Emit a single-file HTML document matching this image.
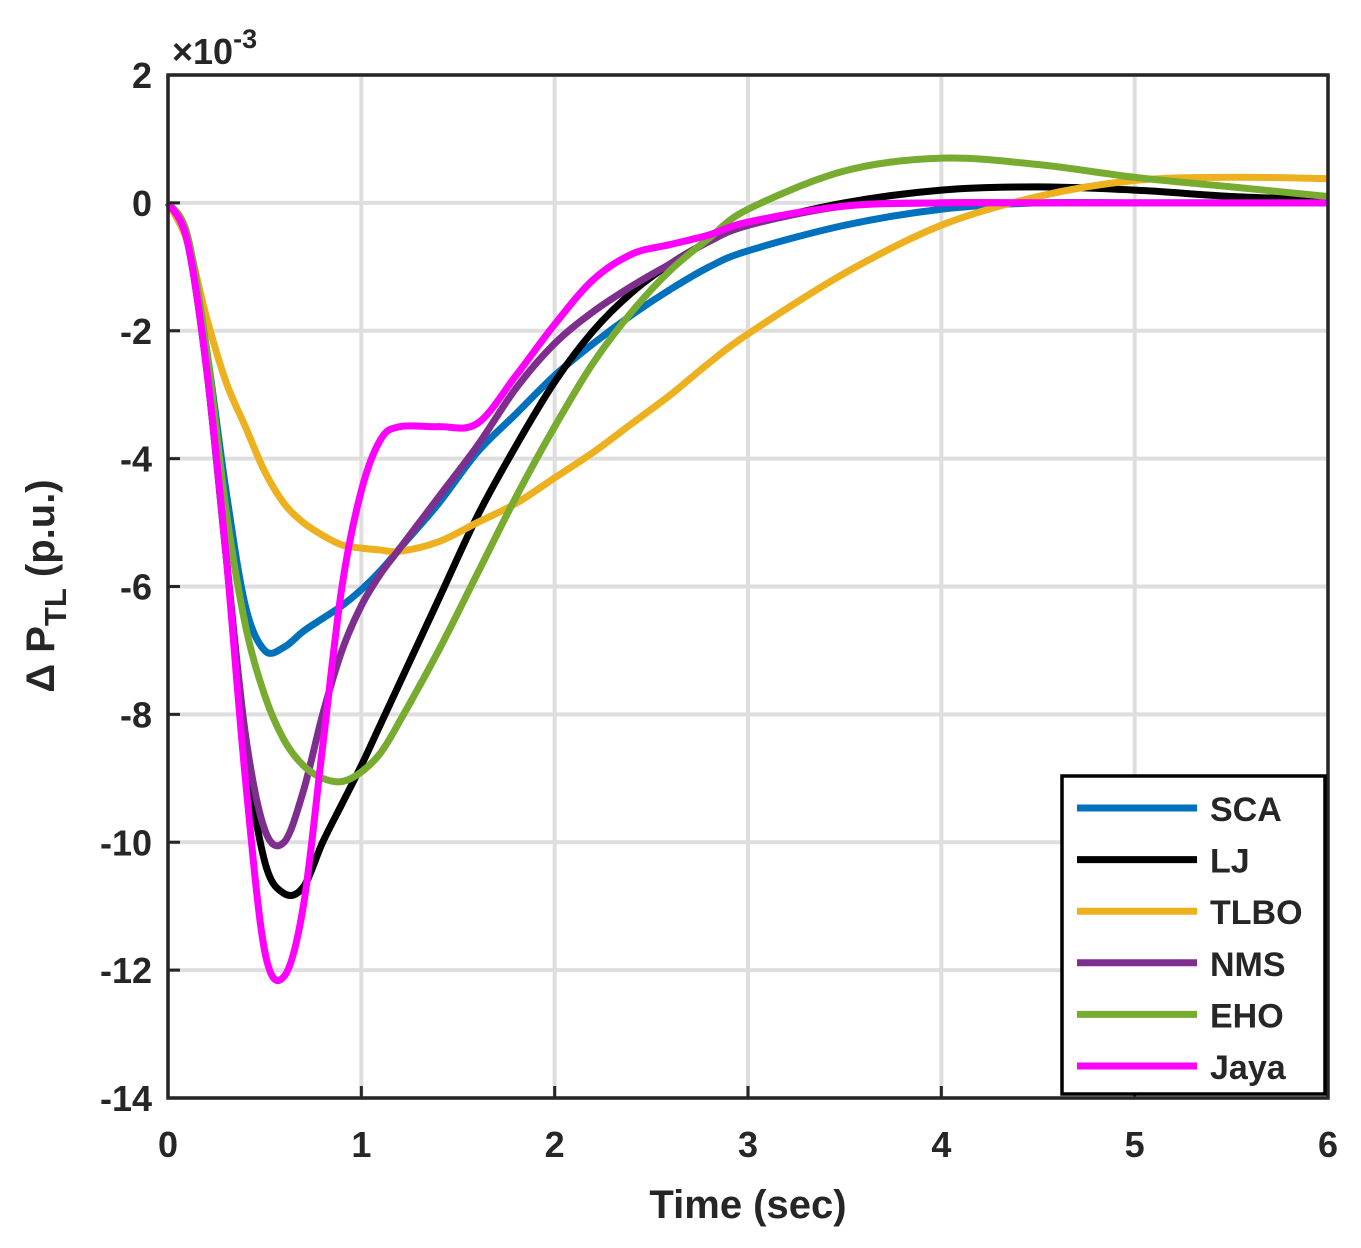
<!DOCTYPE html>
<html><head><meta charset="utf-8"><style>
body{margin:0;background:#fff}
svg text{font-family:"Liberation Sans",Arial,sans-serif;font-weight:bold;fill:#262626}
</style></head><body>
<svg id="chart" width="1361" height="1243" viewBox="0 0 1361 1243" xmlns="http://www.w3.org/2000/svg">
<g id="grid"></g>
<g id="lines"></g>
<rect x="168" y="75" width="1160" height="1023" fill="none" stroke="#262626" stroke-width="3.5"/>
<g id="ticks"></g>
<text x="172" y="64" font-size="36" font-weight="normal">×10<tspan dy="-16" font-size="27">-3</tspan></text>
<text x="748" y="1218" font-size="40" text-anchor="middle">Time (sec)</text>
<text transform="translate(54,586) rotate(-90)" font-size="40" text-anchor="middle">Δ P<tspan dy="12" font-size="31">TL</tspan><tspan dy="-12"> (p.u.)</tspan></text>
<g id="legend"></g>
</svg>
<script>
const times=[0,.1,.2,.3,.4,.5,.6,.7,.8,.9,1,1.1,1.2,1.4,1.6,1.8,2,2.2,2.4,2.6,2.8,3,3.5,4,4.5,5,5.5,6];
const seriesNames=["SCA","LJ","TLBO","NMS","EHO","Jaya"];
const seriesColors=["#0072BD","#000000","#EDB120","#7E2F8E","#77AC30","#FF00FF"];
const sca=[0,-0.6,-2.3,-4.5,-6.3,-7.0,-6.95,-6.7,-6.5,-6.3,-6.05,-5.75,-5.4,-4.7,-3.9,-3.3,-2.7,-2.2,-1.75,-1.35,-1.0,-0.75,-0.35,-0.1,0,0,0,0];
const lj=[0,-0.6,-2.6,-5.5,-8.5,-10.3,-10.8,-10.7,-10.0,-9.4,-8.8,-8.15,-7.5,-6.2,-4.9,-3.8,-2.8,-2.0,-1.4,-0.95,-0.6,-0.35,0.0,0.2,0.25,0.2,0.1,0.05];
const tlbo=[0,-0.6,-1.8,-2.8,-3.5,-4.2,-4.7,-5.0,-5.2,-5.35,-5.4,-5.43,-5.45,-5.3,-5.0,-4.7,-4.3,-3.9,-3.45,-3.0,-2.5,-2.05,-1.1,-0.35,0.1,0.35,0.4,0.38];
const nms=[0,-0.6,-2.6,-5.5,-8.3,-9.8,-10.0,-9.2,-8.0,-7.0,-6.3,-5.8,-5.4,-4.6,-3.8,-2.9,-2.2,-1.7,-1.3,-0.95,-0.6,-0.35,-0.05,0,0,0,0,0];
const eho=[0,-0.5,-2.3,-4.8,-6.6,-7.7,-8.4,-8.8,-9.0,-9.05,-8.9,-8.6,-8.1,-7.0,-5.8,-4.6,-3.5,-2.5,-1.7,-1.05,-0.55,-0.1,0.5,0.7,0.6,0.4,0.25,0.1];
const jaya=[0,-0.6,-2.6,-5.5,-9.0,-11.7,-12.1,-11.0,-8.5,-6.0,-4.5,-3.7,-3.5,-3.5,-3.45,-2.7,-1.9,-1.2,-0.8,-0.65,-0.5,-0.3,-0.05,0,0,0,0,0];
const xTicks=[0,1,2,3,4,5,6];
const yTicks=[2,0,-2,-4,-6,-8,-10,-12,-14];
const allSeries=[sca,lj,tlbo,nms,eho,jaya];
const X0=168,X1=1328,Y0=75,Y1=1098;
const xs=t=>X0+(t-0)/6*(X1-X0);
const ys=v=>Y0+(2-v)/16*(Y1-Y0);
const NS="http://www.w3.org/2000/svg";
function mk(tag,attrs,parent){const e=document.createElementNS(NS,tag);for(const k in attrs)e.setAttribute(k,attrs[k]);parent.appendChild(e);return e;}
const grid=document.getElementById('grid'),ticks=document.getElementById('ticks');
xTicks.forEach(t=>{
 const l=mk('line',{x1:xs(t),x2:xs(t),y1:Y0,y2:Y1,stroke:'#dedede','stroke-width':4},grid);
 
 
 const tk=mk('line',{x1:xs(t),x2:xs(t),y1:Y1,y2:Y1-12,stroke:'#262626','stroke-width':3},ticks);
 
 
 const tx=mk('text',{x:xs(t),y:1157,'font-size':36,'text-anchor':'middle'},ticks);
 tx.textContent=t;
 
 
});
yTicks.forEach(v=>{
 const l=mk('line',{x1:X0,x2:X1,y1:ys(v),y2:ys(v),stroke:'#dedede','stroke-width':4},grid);
 
 
 const tk=mk('line',{x1:X0,x2:X0+12,y1:ys(v),y2:ys(v),stroke:'#262626','stroke-width':3},ticks);
 
 
 const tx=mk('text',{x:152,y:ys(v)+13,'font-size':36,'text-anchor':'end'},ticks);
 tx.textContent=v;
 
 
});
function pathFor(vals){
 const p=times.map((t,i)=>[xs(t),ys(vals[i])]);
 let d=`M${p[0][0]},${p[0][1]}`;
 for(let i=0;i<p.length-1;i++){
  const a=p[Math.max(0,i-1)],b=p[i],c=p[i+1],e=p[Math.min(p.length-1,i+2)];
  const c1=[b[0]+(c[0]-a[0])/6,b[1]+(c[1]-a[1])/6],c2=[c[0]-(e[0]-b[0])/6,c[1]-(e[1]-b[1])/6];
  d+=`C${c1[0]},${c1[1]} ${c2[0]},${c2[1]} ${c[0]},${c[1]}`;
 }
 return d;
}
const lines=document.getElementById('lines');
allSeries.forEach((s,i)=>{
 const p=mk('path',{d:pathFor(s),fill:'none',stroke:seriesColors[i],'stroke-width':7,'stroke-linejoin':'round'},lines);
 
 
});
const lg=document.getElementById('legend');
const box=mk('rect',{x:1062,y:776,width:263,height:318,fill:'#fff',stroke:'#000','stroke-width':3.5},lg);


seriesNames.forEach((n,i)=>{
 const y=808+i*51.6;
 const l=mk('line',{x1:1077,x2:1197,y1:y,y2:y,stroke:seriesColors[i],'stroke-width':7},lg);
 
 
 const t=mk('text',{x:1210,y:y+13,'font-size':34},lg);
 t.textContent=n;
 
 
});
</script>
</body></html>
